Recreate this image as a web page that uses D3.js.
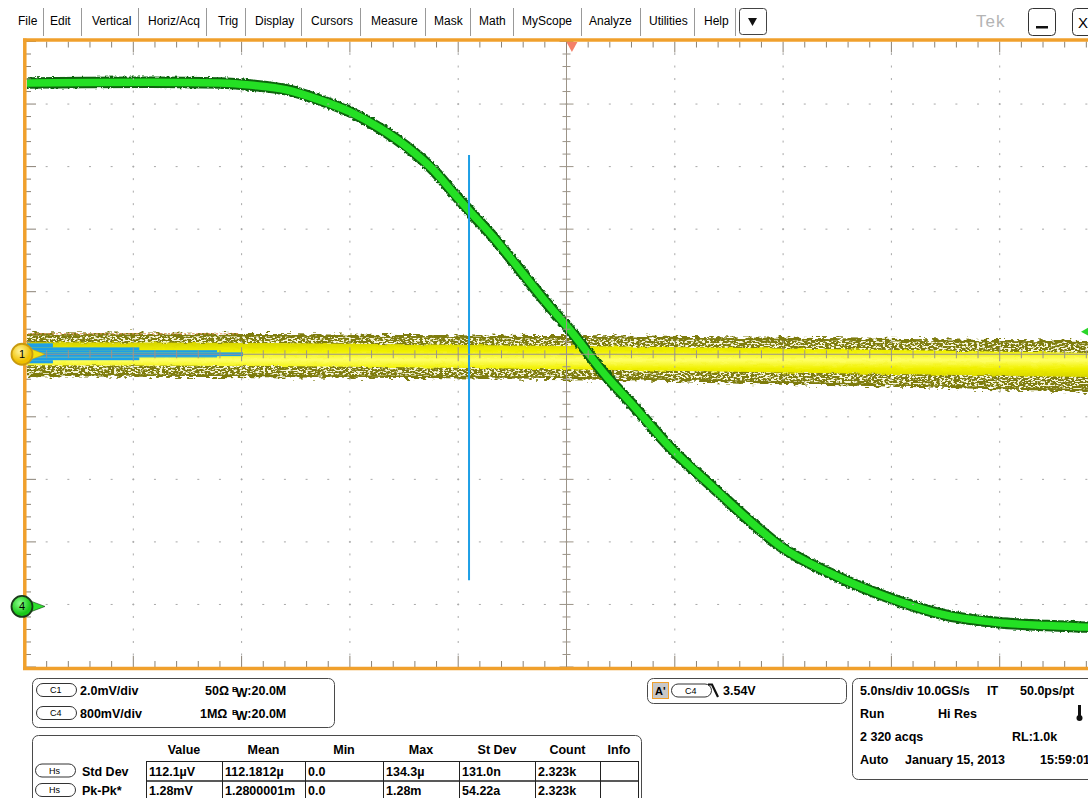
<!DOCTYPE html>
<html lang="en">
<head>
<meta charset="utf-8">
<title>Scope capture</title>
<script src="https://cdn.jsdelivr.net/npm/d3@7"></script>
<style>
  body { margin: 0; background: #fff; overflow: hidden; }
  svg text { font-family: "Liberation Sans", Arial, sans-serif; }
</style>
</head>
<body>
<script>
// menu bar
var menuItems = ["File", "Edit", "Vertical", "Horiz/Acq", "Trig", "Display", "Cursors", "Measure", "Mask", "Math", "MyScope", "Analyze", "Utilities", "Help"];

// C4 (green) trace: time in ns, level in volts
var c4Time  = [-25, -24.86, -19.23, -16.0, -14.47, -12.9, -11.38, -9.99, -8.61, -7.36, -6.16, -5.24, -4.5, -3.39, -2.15, -0.9, 0.16, 1.87, 2.93, 4.92, 6.76, 8.33, 9.95, 12.16, 14.94, 17.57, 19.88, 22.18, 24.03, 25];
var c4Volts = [6.67, 6.67, 6.68, 6.67, 6.64, 6.58, 6.45, 6.30, 6.09, 5.85, 5.56, 5.27, 5.04, 4.70, 4.28, 3.85, 3.51, 2.91, 2.59, 1.97, 1.50, 1.10, 0.73, 0.40, 0.08, -0.14, -0.23, -0.27, -0.29, -0.30];

// C1 (yellow) noise band in mV
var c1Time    = [-25, -12.5, 0, 12.5, 25];
var c1OuterHi = [0.67, 0.64, 0.58, 0.51, 0.42];
var c1InnerHi = [0.38, 0.35, 0.26, 0.16, 0.03];
var c1InnerLo = [-0.35, -0.38, -0.48, -0.61, -0.74];
var c1OuterLo = [-0.70, -0.74, -0.80, -0.99, -1.22];

// Hs histogram (blue): bin edges in mV and hits
var hsEdges = [0.35, 0.22, 0.13, 0.06, -0.06, -0.10, -0.19, -0.29];
var hsHits  = [120, 520, 880, 1000, 880, 520, 120];

// cursor (ns, mV on C1) and trigger
var cursorTime = -4.5, cursorTop = 6.37, cursorBottom = -7.23;
var trigLevel = 3.54, trigPos = 0.25;

// readouts
var chanNames = ["C1", "C4"];
var chanScale = ["2.0mV/div", "800mV/div"];
var chanTerm  = ["50\u03A9", "1M\u03A9"];
var chanBw    = [":20.0M", ":20.0M"];
var measCols  = ["Value", "Mean", "Min", "Max", "St Dev", "Count", "Info"];
var measNames = ["Std Dev", "Pk-Pk*"];
var measRows  = [
  ["112.1\u00B5V", "112.1812\u00B5", "0.0", "134.3\u00B5", "131.0n", "2.323k", ""],
  ["1.28mV", "1.2800001m", "0.0", "1.28m", "54.22a", "2.323k", ""]
];
var horizRows = [
  ["5.0ns/div", "10.0GS/s", "IT", "50.0ps/pt"],
  ["Run", "Hi Res"],
  ["2 320 acqs", "RL:1.0k"],
  ["Auto", "January 15, 2013", "15:59:01"]
];

var W = 1088, H = 798;
var svg = d3.select("body").append("svg").attr("width", W).attr("height", H);
var defs = svg.append("defs");

// rough edges for the noisy traces
function roughFilter(id, freq, scale, seed) {
  var f = defs.append("filter").attr("id", id)
    .attr("x", "-5%").attr("y", "-40%").attr("width", "110%").attr("height", "180%");
  f.append("feTurbulence").attr("type", "fractalNoise").attr("baseFrequency", freq)
    .attr("numOctaves", 2).attr("seed", seed).attr("result", "n");
  f.append("feDisplacementMap").attr("in", "SourceGraphic").attr("in2", "n")
    .attr("scale", scale).attr("xChannelSelector", "R").attr("yChannelSelector", "G");
}
roughFilter("roughY", "0.18 0.45", 10, 3);
roughFilter("roughG", "0.4 0.4", 3.5, 5);
roughFilter("roughC", "0.1 0.3", 3, 9);

var sp = defs.append("filter").attr("id", "speckle")
  .attr("x", "0").attr("y", "-20%").attr("width", "100%").attr("height", "140%");
sp.append("feTurbulence").attr("type", "fractalNoise").attr("baseFrequency", "0.35 0.6")
  .attr("numOctaves", 2).attr("seed", 11).attr("result", "n");
sp.append("feColorMatrix").attr("in", "n").attr("type", "matrix")
  .attr("values", "0 0 0 0 0  0 0 0 0 0  0 0 0 0 0  10 0 0 0 -4.9").attr("result", "m");
sp.append("feComposite").attr("in", "SourceGraphic").attr("in2", "m").attr("operator", "in");

var yg = defs.append("linearGradient").attr("id", "yellowCore")
  .attr("x1", 0).attr("y1", 0).attr("x2", 0).attr("y2", 1);
[[0, "#d6d400"], [0.25, "#f0f000"], [0.5, "#ffff66"], [0.75, "#f0f000"], [1, "#d6d400"]].forEach(function(s) {
  yg.append("stop").attr("offset", s[0]).attr("stop-color", s[1]);
});
var m1 = defs.append("radialGradient").attr("id", "mark1").attr("cx", "40%").attr("cy", "35%");
m1.append("stop").attr("offset", 0).attr("stop-color", "#fff6a0");
m1.append("stop").attr("offset", 1).attr("stop-color", "#f0c000");
var m4 = defs.append("radialGradient").attr("id", "mark4").attr("cx", "40%").attr("cy", "35%");
m4.append("stop").attr("offset", 0).attr("stop-color", "#8cff8c");
m4.append("stop").attr("offset", 1).attr("stop-color", "#18c818");

// ---------- menu bar ----------
var menuX = [18, 50, 92, 148, 218, 255, 311, 371, 434, 479, 522, 589, 649, 704];
var menuSep = [43, 81, 138, 206, 245, 301, 360, 425, 470, 513, 581, 640, 694, 735];
svg.selectAll("text.menu").data(menuItems).enter().append("text")
  .attr("class", "menu")
  .attr("x", function(d, i) { return menuX[i]; })
  .attr("y", 25)
  .attr("font-size", 12)
  .text(function(d) { return d; });
svg.selectAll("line.sep").data(menuSep).enter().append("line")
  .attr("x1", function(d) { return d + 0.5; }).attr("x2", function(d) { return d + 0.5; })
  .attr("y1", 8).attr("y2", 36).attr("stroke", "#999");
svg.append("rect").attr("x", 739.5).attr("y", 8.5).attr("width", 27).attr("height", 26).attr("rx", 3)
  .attr("fill", "#fff").attr("stroke", "#444");
svg.append("path").attr("d", "M748,18 L757,18 L752.5,26 Z").attr("fill", "#111");
svg.append("text").attr("x", 976).attr("y", 27).attr("font-size", 17).attr("fill", "#b4b4b4")
  .attr("letter-spacing", 1).text("Tek");
svg.append("rect").attr("x", 1028.5).attr("y", 8.5).attr("width", 27).attr("height", 27).attr("rx", 4)
  .attr("fill", "#fff").attr("stroke", "#333");
svg.append("rect").attr("x", 1036).attr("y", 26).attr("width", 12).attr("height", 2.5).attr("fill", "#111");
svg.append("rect").attr("x", 1072.5).attr("y", 8.5).attr("width", 27).attr("height", 27).attr("rx", 4)
  .attr("fill", "#fff").attr("stroke", "#333");
svg.append("text").attr("x", 1078).attr("y", 28).attr("font-size", 15).text("X");

// ---------- scales ----------
var x = d3.scaleLinear().domain([-25, 25]).range([25, 1108]);
var yDiv = d3.scaleLinear().domain([-5, 5]).range([667, 41.5]);
var yC1 = d3.scaleLinear().domain([-10, 10]).range([667, 41.5]);    // 2 mV/div, offset 0
var yC4 = d3.scaleLinear().domain([-0.8, 7.2]).range([667, 41.5]);  // 800 mV/div, ground at -4 div

var plot = svg.append("g");
defs.append("clipPath").attr("id", "plotClip").append("rect")
  .attr("x", 27).attr("y", 41).attr("width", 1081).attr("height", 626);

// ---------- C1 yellow band ----------
var c1 = c1Time.map(function(t, i) {
  return { t: t, oh: c1OuterHi[i], ih: c1InnerHi[i], il: c1InnerLo[i], ol: c1OuterLo[i] };
});
var outerArea = d3.area().curve(d3.curveMonotoneX)
  .x(function(d) { return x(d.t); })
  .y0(function(d) { return yC1(d.ol); })
  .y1(function(d) { return yC1(d.oh); });
var midArea = d3.area().curve(d3.curveMonotoneX)
  .x(function(d) { return x(d.t); })
  .y0(function(d) { return yC1(d.ol) - 2.5; })
  .y1(function(d) { return yC1(d.oh) + 2.5; });
var coreArea = d3.area().curve(d3.curveMonotoneX)
  .x(function(d) { return x(d.t); })
  .y0(function(d) { return yC1(d.il); })
  .y1(function(d) { return yC1(d.ih); });
var band = plot.append("g").attr("clip-path", "url(#plotClip)");
band.append("path").datum(c1).attr("d", outerArea).attr("fill", "#7e7c0e").attr("filter", "url(#roughY)");
band.append("path").datum(c1).attr("d", midArea).attr("fill", "#f8f7dc").attr("filter", "url(#speckle)");
band.append("path").datum(c1).attr("d", coreArea).attr("fill", "url(#yellowCore)").attr("filter", "url(#roughC)");

// ---------- graticule ----------
var grat = svg.append("g");
var minorX = d3.range(-25, 25.01, 1);      // 1 ns = 1/5 div
var minorY = d3.range(-5, 5.01, 0.2);
var dots = [];
[-20, -15, -10, -5, 5, 10, 15, 20].forEach(function(t) {
  minorY.forEach(function(v) { if (Math.abs(v) < 4.99) dots.push([x(t), yDiv(v), 1, 2]); });
});
[-4, -3, -2, -1, 1, 2, 3, 4].forEach(function(v) {
  minorX.forEach(function(t) { if (Math.abs(t) < 24.99) dots.push([x(t), yDiv(v), 2, 1]); });
});
grat.selectAll("rect.dot").data(dots).enter().append("rect")
  .attr("x", function(d) { return d[0] - d[2] / 2; }).attr("y", function(d) { return d[1] - d[3] / 2; })
  .attr("width", function(d) { return d[2]; }).attr("height", function(d) { return d[3]; })
  .attr("fill", "#a8a8a8");

var axisCol = "#9c9488";
grat.append("line").attr("x1", x(0)).attr("x2", x(0)).attr("y1", yDiv(5)).attr("y2", yDiv(-5))
  .attr("stroke", axisCol);
grat.append("line").attr("x1", x(-25)).attr("x2", x(25)).attr("y1", yDiv(0)).attr("y2", yDiv(0))
  .attr("stroke", axisCol);
function isMajor(v, step) { return Math.abs(v / step - Math.round(v / step)) < 1e-6; }
grat.selectAll("line.vt").data(minorY).enter().append("line")
  .attr("x1", function(d) { return x(0) - (isMajor(d, 1) ? 7 : 4); })
  .attr("x2", function(d) { return x(0) + (isMajor(d, 1) ? 7 : 4); })
  .attr("y1", function(d) { return yDiv(d); }).attr("y2", function(d) { return yDiv(d); })
  .attr("stroke", axisCol);
grat.selectAll("line.ht").data(minorX).enter().append("line")
  .attr("y1", function(d) { return yDiv(0) - (isMajor(d, 5) ? 7 : 4); })
  .attr("y2", function(d) { return yDiv(0) + (isMajor(d, 5) ? 7 : 4); })
  .attr("x1", function(d) { return x(d); }).attr("x2", function(d) { return x(d); })
  .attr("stroke", axisCol);
// edge ticks
var edgeCol = "#8a8276";
grat.selectAll("line.tt").data(minorX).enter().append("line")
  .attr("x1", function(d) { return x(d); }).attr("x2", function(d) { return x(d); })
  .attr("y1", yDiv(5)).attr("y2", function(d) { return yDiv(5) + (isMajor(d, 5) ? 11 : 6); })
  .attr("stroke", edgeCol);
grat.selectAll("line.bt").data(minorX).enter().append("line")
  .attr("x1", function(d) { return x(d); }).attr("x2", function(d) { return x(d); })
  .attr("y1", yDiv(-5)).attr("y2", function(d) { return yDiv(-5) - (isMajor(d, 5) ? 11 : 6); })
  .attr("stroke", edgeCol);
grat.selectAll("line.lt").data(minorY).enter().append("line")
  .attr("y1", function(d) { return yDiv(d); }).attr("y2", function(d) { return yDiv(d); })
  .attr("x1", x(-25)).attr("x2", function(d) { return x(-25) + (isMajor(d, 1) ? 11 : 6); })
  .attr("stroke", edgeCol);

// ---------- Hs histogram (blue) ----------
var hsLen = d3.scaleLinear().domain([0, 1000]).range([0, 216]);
plot.selectAll("rect.hs").data(hsHits).enter().append("rect")
  .attr("x", x(-25) + 2)
  .attr("y", function(d, i) { return yC1(hsEdges[i]); })
  .attr("width", function(d) { return hsLen(d); })
  .attr("height", function(d, i) { return yC1(hsEdges[i + 1]) - yC1(hsEdges[i]); })
  .attr("fill", "#1d9fe6");
plot.append("line").attr("x1", x(-25) + 3).attr("x2", x(-15.1))
  .attr("y1", yC1(c1OuterHi[0]) + 0.5).attr("y2", yC1(c1OuterHi[0]) + 0.5)
  .attr("stroke", "#e89060").attr("stroke-dasharray", "2,2");

// ---------- C4 green trace ----------
var c4 = c4Time.map(function(t, i) { return { t: t, v: c4Volts[i] }; });
var c4Line = d3.line().curve(d3.curveMonotoneX)
  .x(function(d) { return x(d.t); })
  .y(function(d) { return yC4(d.v); });
var gTrace = plot.append("g").attr("clip-path", "url(#plotClip)");
gTrace.append("path").datum(c4).attr("d", c4Line).attr("fill", "none")
  .attr("stroke", "#0c640e").attr("stroke-width", 11.5).attr("filter", "url(#roughG)");
gTrace.append("path").datum(c4).attr("d", c4Line).attr("fill", "none")
  .attr("stroke", "#24e024").attr("stroke-width", 7.5);

// ---------- cursor ----------
plot.append("line").attr("x1", x(cursorTime)).attr("x2", x(cursorTime))
  .attr("y1", yC1(cursorTop)).attr("y2", yC1(cursorBottom))
  .attr("stroke", "#1d9fe6").attr("stroke-width", 2);

// ---------- frame ----------
var frameCol = "#f0a02c";
svg.append("line").attr("x1", 23).attr("x2", W).attr("y1", 40).attr("y2", 40).attr("stroke", frameCol).attr("stroke-width", 3.5);
svg.append("line").attr("x1", 23).attr("x2", W).attr("y1", 668.5).attr("y2", 668.5).attr("stroke", frameCol).attr("stroke-width", 3.5);
svg.append("line").attr("x1", 24.8).attr("x2", 24.8).attr("y1", 38.5).attr("y2", 670).attr("stroke", frameCol).attr("stroke-width", 3.5);

// trigger position marker
var tp = x(trigPos);
svg.append("path").attr("d", "M" + (tp - 5.5) + ",42 L" + (tp + 5.5) + ",42 L" + tp + ",52 Z").attr("fill", "#f48068");
// trigger level marker on right edge
var tl = yC4(trigLevel) + 4;
svg.append("path").attr("d", "M1081," + tl + " L1090," + (tl - 5) + " L1090," + (tl + 5) + " Z").attr("fill", "#2ad62a");

// channel markers
function chanMarker(cy, label, grad, stroke, arrowFill) {
  var g = svg.append("g");
  g.append("path").attr("d", "M29," + (cy - 6) + " L45," + cy + " L29," + (cy + 6) + " Z")
    .attr("fill", arrowFill).attr("stroke", stroke).attr("stroke-width", 0.6);
  g.append("circle").attr("cx", 22).attr("cy", cy).attr("r", 10.5)
    .attr("fill", grad).attr("stroke", stroke).attr("stroke-width", 1.8);
  g.append("text").attr("x", 22).attr("y", cy + 4).attr("text-anchor", "middle")
    .attr("font-size", 11).text(label);
}
chanMarker(yC1(0), "1", "url(#mark1)", "#c89a10", "#f4e010");
chanMarker(yC4(0) + 2, "4", "url(#mark4)", "#1a3a1a", "#2ee02e");

// ---------- readout panels ----------
var panel = svg.append("g").attr("font-weight", "bold").attr("font-size", 12.5);
function box(x0, y0, w, h) {
  panel.append("rect").attr("x", x0 + 0.5).attr("y", y0 + 0.5).attr("width", w).attr("height", h).attr("rx", 6)
    .attr("fill", "#fff").attr("stroke", "#4a4a4a");
}
function pill(x0, cy, label) {
  panel.append("rect").attr("x", x0 + 0.5).attr("y", cy - 6.5).attr("width", 40).attr("height", 13).attr("rx", 6.5)
    .attr("fill", "#fff").attr("stroke", "#333");
  panel.append("text").attr("x", x0 + 14).attr("y", cy + 3.2).attr("font-size", 9).attr("font-weight", "normal")
    .text(label);
}

// channel box
box(32, 678, 302, 49);
chanNames.forEach(function(c, i) {
  var cy = 690 + i * 23;
  pill(36, cy, c);
  panel.append("text").attr("x", 80).attr("y", cy + 4.5).text(chanScale[i]);
  panel.append("text").attr("x", i === 0 ? 205 : 200).attr("y", cy + 4.5).text(chanTerm[i]);
  var t = panel.append("text").attr("x", 232).attr("y", cy + 4.5);
  t.append("tspan").attr("font-size", 8).attr("dy", -3).text("B");
  t.append("tspan").attr("font-size", 12.5).attr("dx", -2).attr("dy", 5).text("W");
  t.append("tspan").attr("dy", -2).text(chanBw[i]);
});

// trigger box
box(647, 678, 199, 25);
panel.append("rect").attr("x", 652.5).attr("y", 682.5).attr("width", 16).attr("height", 16)
  .attr("fill", "#c8c8c8").attr("stroke", "#f0a02c");
panel.append("text").attr("x", 655).attr("y", 695).attr("font-size", 11).text("A'");
pill(671, 690.5, "C4");
panel.append("path").attr("d", "M708,684.5 H712 L718,697").attr("fill", "none").attr("stroke", "#111").attr("stroke-width", 2.2);
panel.append("text").attr("x", 723).attr("y", 695).text("3.54V");

// horizontal / acquisition box
box(852, 678, 250, 101);
var horizX = [[860, 917, 987, 1020], [860, 938], [860, 1012], [860, 905, 1040]];
horizRows.forEach(function(row, i) {
  row.forEach(function(s, j) {
    panel.append("text").attr("x", horizX[i][j]).attr("y", 694.5 + i * 23.3).text(s);
  });
});
// thermometer glyph
panel.append("rect").attr("x", 1078).attr("y", 705).attr("width", 3).attr("height", 11).attr("fill", "#111");
panel.append("circle").attr("cx", 1079.5).attr("cy", 718).attr("r", 3).attr("fill", "#111");

// measurement table
box(32, 735, 609, 80);
var colEdges = [146, 222, 305, 383, 459, 535, 600, 638];
measCols.forEach(function(c, i) {
  panel.append("text").attr("x", (colEdges[i] + colEdges[i + 1]) / 2).attr("y", 753.5)
    .attr("text-anchor", "middle").text(c);
});
measNames.forEach(function(n, r) {
  var y0 = 761 + r * 19.5;
  pill(35, y0 + 9.5, "Hs");
  panel.append("text").attr("x", 82).attr("y", y0 + 14.5).text(n);
  measRows[r].forEach(function(v, i) {
    panel.append("rect").attr("x", colEdges[i] + 0.5).attr("y", y0 + 0.5)
      .attr("width", colEdges[i + 1] - colEdges[i]).attr("height", 19.5)
      .attr("fill", "none").attr("stroke", "#222");
    panel.append("text").attr("x", colEdges[i] + 3).attr("y", y0 + 14.5).text(v);
  });
});
</script>
</body>
</html>
